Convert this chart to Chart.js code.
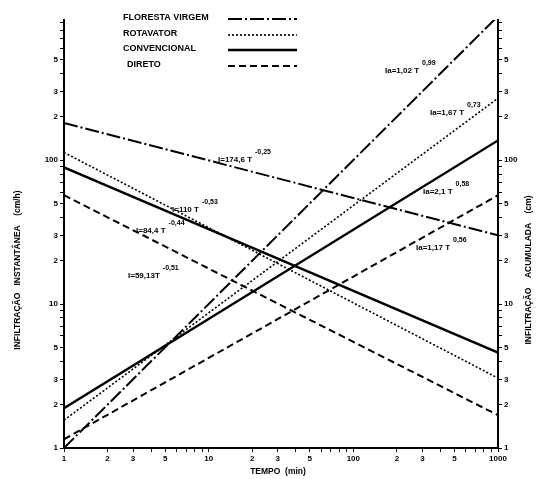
<!DOCTYPE html>
<html>
<head>
<meta charset="utf-8">
<script src="https://cdn.jsdelivr.net/npm/chart.js@4.4.0/dist/chart.umd.min.js"></script>
<style>
html,body{margin:0;padding:0;background:#fff;}
#wrap{position:relative;width:540px;height:479px;}
</style>
</head>
<body>
<div id="wrap"><canvas id="c" width="540" height="479"></canvas></div>
<script>
// Data (time in min, infiltration values)
const times = [1, 1000];
const florestaI = [181, 30];
const rotavatorI = [113, 3.06];
const convencionalI = [89, 4.6];
const diretoI = [57, 1.69];
const florestaIa = [1.0, 1000];
const rotavatorIa = [1.56, 269];
const convencionalIa = [1.89, 137];
const diretoIa = [1.15, 57];

const seriesNames = ['FLORESTA VIRGEM', 'ROTAVATOR', 'CONVENCIONAL', 'DIRETO'];
const xTickLabels = {1:'1',2:'2',3:'3',5:'5',10:'10',20:'2',30:'3',50:'5',100:'100',200:'2',300:'3',500:'5',1000:'1000'};
const yTickLabels = {1:'1',2:'2',3:'3',5:'5',10:'10',20:'2',30:'3',50:'5',100:'100',200:'2',300:'3',500:'5'};

const styles = [
  {dash:[14,3,2,3], width:2},
  {dash:[2,2], width:1.6},
  {dash:[], width:2.4},
  {dash:[7,4], width:2}
];

function pts(ys){ return times.map((t,i)=>({x:t,y:ys[i]})); }
function ds(name, ys, st, axis){
  return {label:name, data:pts(ys), borderColor:'#000', borderWidth:st.width, borderDash:st.dash,
    pointRadius:0, fill:false, tension:0, yAxisID:axis};
}
const datasets = [
  ds(seriesNames[0], florestaI, styles[0], 'y'),
  ds(seriesNames[1], rotavatorI, styles[1], 'y'),
  ds(seriesNames[2], convencionalI, styles[2], 'y'),
  ds(seriesNames[3], diretoI, styles[3], 'y'),
  ds(seriesNames[0], florestaIa, styles[0], 'y2'),
  ds(seriesNames[1], rotavatorIa, styles[1], 'y2'),
  ds(seriesNames[2], convencionalIa, styles[2], 'y2'),
  ds(seriesNames[3], diretoIa, styles[3], 'y2')
];

function allTicks(min, max){
  const out=[];
  for(let d=1; d<=1000; d*=10){
    for(let k=1;k<=9;k++){ const v=k*d; if(v>=min && v<=max+1e-9) out.push({value:v}); }
  }
  return out;
}
const F = 'bold 8px "Liberation Sans", Arial, sans-serif';

const annotations = [
  {t:'I=174,6 T', s:'-0,25', x:218, y:160},
  {t:'I=110 T', s:'-0,53', x:172, y:210},
  {t:'I=84,4 T', s:'-0,44', x:136, y:231},
  {t:'I=59,13T', s:'-0,51', x:128, y:276},
  {t:'Ia=1,02 T', s:'0,99', x:385, y:71},
  {t:'Ia=1,67 T', s:'0,73', x:430, y:113},
  {t:'Ia=2,1 T', s:'0,58', x:423, y:192},
  {t:'Ia=1,17 T', s:'0,56', x:416, y:248}
];

const textPlugin = {
  id:'texts',
  afterDraw(chart){
    const ctx = chart.ctx;
    ctx.save();
    ctx.fillStyle='#000';
    ctx.strokeStyle='#000';
    // legend
    ctx.font = 'bold 9px "Liberation Sans", Arial, sans-serif';
    ctx.textBaseline='middle';
    ctx.textAlign='left';
    const ly=[18,34,49,65], lx=[123,123,123,127];
    seriesNames.forEach((n,i)=>{
      ctx.fillText(n, lx[i], ly[i]);
      ctx.beginPath();
      ctx.setLineDash(styles[i].dash);
      ctx.lineWidth = styles[i].width;
      ctx.moveTo(228, ly[i]+1); ctx.lineTo(297, ly[i]+1);
      ctx.stroke();
    });
    ctx.setLineDash([]);
    // equations
    annotations.forEach(a=>{
      ctx.font = 'bold 8px "Liberation Sans", Arial, sans-serif';
      ctx.textAlign='left';
      ctx.fillText(a.t, a.x, a.y);
      const w = ctx.measureText(a.t).width;
      ctx.font = 'bold 7px "Liberation Sans", Arial, sans-serif';
      ctx.fillText(a.s, a.x+w+3, a.y-8);
    });
    // axis titles
    ctx.font = 'bold 8.5px "Liberation Sans", Arial, sans-serif';
    ctx.textAlign='center';
    ctx.fillText('TEMPO  (min)', 278, 472);
    ctx.save();
    ctx.translate(18, 270); ctx.rotate(-Math.PI/2);
    ctx.fillText('INFILTRAÇÃO   INSTANTÂNEA    (cm/h)', 0, 0);
    ctx.restore();
    ctx.save();
    ctx.translate(529, 270); ctx.rotate(-Math.PI/2);
    ctx.fillText('INFILTRAÇÃO    ACUMULADA    (cm)', 0, 0);
    ctx.restore();
    ctx.restore();
  }
};

const yCommon = {
  type:'logarithmic', min:1, max:940,
  afterBuildTicks(s){ s.ticks = allTicks(1, 940); },
  grid:{drawOnChartArea:false, drawTicks:true, tickLength:4, color:'#000', lineWidth:1},
  border:{display:true, color:'#000', width:2},
  ticks:{color:'#000', font:{size:8, weight:'bold', family:'"Liberation Sans", Arial, sans-serif'}, padding:2, autoSkip:false,
    callback:(v)=> yTickLabels[v] !== undefined ? yTickLabels[v] : ''}
};

new Chart(document.getElementById('c'), {
  type:'line',
  data:{datasets},
  options:{
    responsive:false, animation:false,
    layout:{padding:{top:20, left:0, right:0, bottom:0}},
    plugins:{legend:{display:false}, tooltip:{enabled:false}},
    scales:{
      x:{type:'logarithmic', min:1, max:1000, position:'bottom',
        afterBuildTicks(s){ s.ticks = allTicks(1,1000); },
        afterFit(s){ s.height = 31; },
        grid:{drawOnChartArea:false, drawTicks:true, tickLength:4, color:'#000'},
        border:{display:true, color:'#000', width:2},
        ticks:{color:'#000', maxRotation:0, autoSkip:false, padding:2,
          font:{size:8, weight:'bold', family:'"Liberation Sans", Arial, sans-serif'},
          callback:(v)=> xTickLabels[v] !== undefined ? xTickLabels[v] : ''}
      },
      y:Object.assign({}, yCommon, {position:'left', afterFit(s){ s.width = 64; }}),
      y2:Object.assign({}, yCommon, {position:'right', afterFit(s){ s.width = 42; }})
    }
  },
  plugins:[textPlugin]
});
</script>
</body>
</html>
